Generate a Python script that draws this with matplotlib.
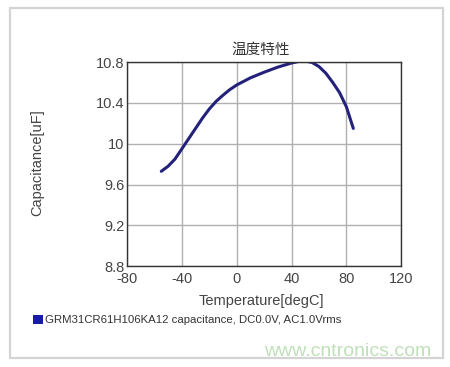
import matplotlib.pyplot as plt
from matplotlib.patches import Rectangle

plt.rcParams['font.family'] = ['Liberation Sans', 'Noto Sans CJK SC', 'DejaVu Sans']
plt.rcParams['axes.unicode_minus'] = False

# Temperature characteristic
temp = [-55, -50, -45, -40, -35, -30, -25, -20, -15, -10, -5, 0,
        10, 20, 30, 40, 45, 50, 55, 60, 65, 70, 75, 80, 85]
cap = [9.73, 9.78, 9.85, 9.95, 10.05, 10.15, 10.25, 10.34, 10.415, 10.475, 10.53, 10.575,
       10.645, 10.70, 10.75, 10.79, 10.805, 10.81, 10.795, 10.755, 10.69, 10.60, 10.50, 10.36, 10.15]

x_ticks = [-80, -40, 0, 40, 80, 120]
y_ticks = [8.8, 9.2, 9.6, 10.0, 10.4, 10.8]
y_labels = ['8.8', '9.2', '9.6', '10', '10.4', '10.8']

W, H = 450, 367
fig = plt.figure(figsize=(W / 100, H / 100), dpi=100)
fig.patch.set_facecolor('white')

# gray outer frame
fig.patches.append(Rectangle((10 / W, 1 - 358 / H), 433 / W, 350 / H,
                             transform=fig.transFigure, fill=False,
                             edgecolor='#d4d4d4', linewidth=1.6))

ax = fig.add_axes([127 / W, 1 - 266.3 / H, 274.3 / W, 204.3 / H])
ax.plot(temp, cap, color='#23217a', linewidth=2.2, solid_capstyle='round')
ax.set_xlim(-80, 120)
ax.set_ylim(8.8, 10.8)
ax.set_xticks(x_ticks)
ax.set_yticks(y_ticks)
ax.set_yticklabels(y_labels)
ax.tick_params(length=0, labelsize=10.5, colors='#444444', pad=2)
ax.tick_params(axis='x', pad=4)
ax.grid(True, color='#b0b0b0', linewidth=1)
for s in ax.spines.values():
    s.set_color('#333333')
    s.set_linewidth(1)

fig.text(261 / W, 1 - 50 / H, '温度特性', ha='center', va='center',
         fontsize=10.5, color='#333333', family=['Noto Sans CJK SC', 'DejaVu Sans'])
fig.text(261 / W, 1 - 301 / H, 'Temperature[degC]', ha='center', va='center',
         fontsize=10.5, color='#444444')
fig.text(37 / W, 1 - 163 / H, 'Capacitance[uF]', ha='center', va='center',
         rotation=90, fontsize=10.5, color='#444444')

# legend
fig.patches.append(Rectangle((33 / W, 1 - 324 / H), 10 / W, 9 / H,
                             transform=fig.transFigure, facecolor='#1a1aa8',
                             edgecolor='none'))
fig.text(45 / W, 1 - 320 / H, 'GRM31CR61H106KA12 capacitance, DC0.0V, AC1.0Vrms',
         ha='left', va='center', fontsize=8.2, color='#333333')

# watermark
fig.text(431 / W, 1 - 352 / H, 'www.cntronics.com', ha='right', va='center',
         fontsize=14, color='#bfe0b8')

fig.savefig('out.png', dpi=100)
